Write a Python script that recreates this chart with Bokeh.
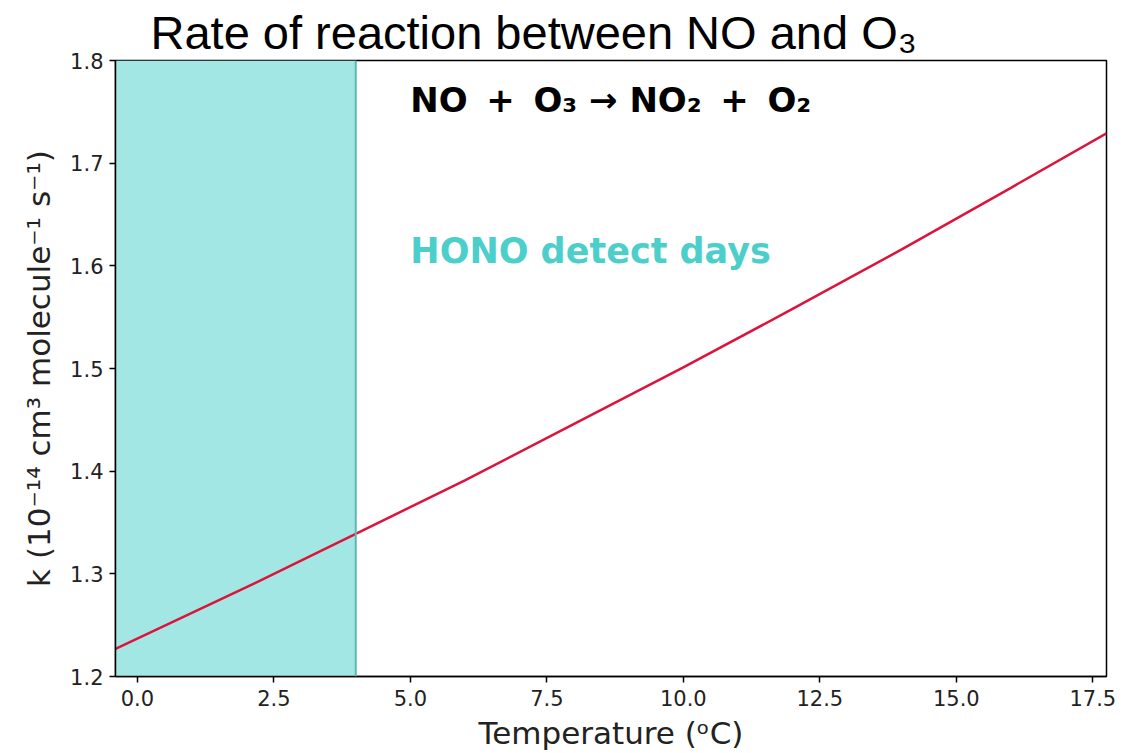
from bokeh.plotting import figure
from bokeh.models import BoxAnnotation, Span, FixedTicker, Label, Range1d, Title
from bokeh.embed import file_html
from bokeh.resources import INLINE

# Data
temperature_c = [-0.4, 2.0, 4.0, 6.0, 8.0, 10.0, 12.0, 14.0, 16.0, 17.75]
rate_k = [1.227, 1.287, 1.339, 1.391, 1.446, 1.501, 1.558, 1.616, 1.676, 1.729]
hono_band_end = 4.0
x_ticks = [0.0, 2.5, 5.0, 7.5, 10.0, 12.5, 15.0, 17.5]
y_ticks = [1.2, 1.3, 1.4, 1.5, 1.6, 1.7, 1.8]

p = figure(width=1127, height=753, output_backend="svg", toolbar_location=None,
           x_range=Range1d(-0.4, 17.75), y_range=Range1d(1.2, 1.8),
           min_border_left=115, min_border_right=21, min_border_top=60, min_border_bottom=76)

p.title = Title(text="Rate of reaction between NO and O₃", text_font="Liberation Sans",
                text_font_size="47px", text_font_style="normal", align="left", offset=35,
                text_color="black", standoff=3)

p.xgrid.visible = False
p.ygrid.visible = False
p.outline_line_color = "black"
p.outline_line_width = 1.5
p.background_fill_color = "white"

band = BoxAnnotation(right=hono_band_end, fill_color="#a3e7e4", fill_alpha=1.0, line_color=None, level="underlay")
p.add_layout(band)
p.add_layout(Span(location=hono_band_end, dimension="height", line_color="#5cb7b2", line_width=2))

p.line(temperature_c, rate_k, line_color="#dc143c", line_width=2.5)

sp = "\u00a0\u2009"
p.add_layout(Label(x=5.0, y=1.762, text=f"NO{sp}+{sp}O₃\u00a0→\u00a0NO₂{sp}+{sp}O₂", text_font="DejaVu Sans",
                   text_font_size="34px", text_font_style="bold", text_color="black",
                   text_baseline="middle"))
p.add_layout(Label(x=5.0, y=1.614, text="HONO detect days", text_font="DejaVu Sans",
                   text_font_size="35px", text_font_style="bold", text_color="#4ccfca",
                   text_baseline="middle"))

for ax in (p.xaxis[0], p.yaxis[0]):
    ax.axis_line_color = "black"
    ax.axis_line_width = 1.5
    ax.major_tick_line_color = "black"
    ax.major_tick_line_width = 1.5
    ax.major_tick_out = 6
    ax.major_tick_in = 0
    ax.minor_tick_line_color = None
    ax.major_label_text_font = "DejaVu Sans"
    ax.major_label_text_font_size = "21px"
    ax.major_label_text_color = "#222222"
    ax.axis_label_text_font = "DejaVu Sans"
    ax.axis_label_text_font_size = "31px"
    ax.axis_label_text_font_style = "normal"
    ax.axis_label_text_color = "#222222"

p.xaxis[0].ticker = FixedTicker(ticks=x_ticks)
p.yaxis[0].ticker = FixedTicker(ticks=y_ticks)
p.xaxis[0].major_label_overrides = {t: f"{t:.1f}" for t in x_ticks}
p.yaxis[0].major_label_overrides = {t: f"{t:.1f}" for t in y_ticks}
p.xaxis[0].axis_label = "Temperature (ᵒC)"
p.yaxis[0].axis_label = "k (10⁻¹⁴ cm³ molecule⁻¹ s⁻¹)"
p.xaxis[0].axis_label_standoff = 6
p.yaxis[0].axis_label_standoff = 10
p.xaxis[0].major_label_standoff = 7
p.yaxis[0].major_label_standoff = 6

open("out.html", "w").write(file_html(p, INLINE))
